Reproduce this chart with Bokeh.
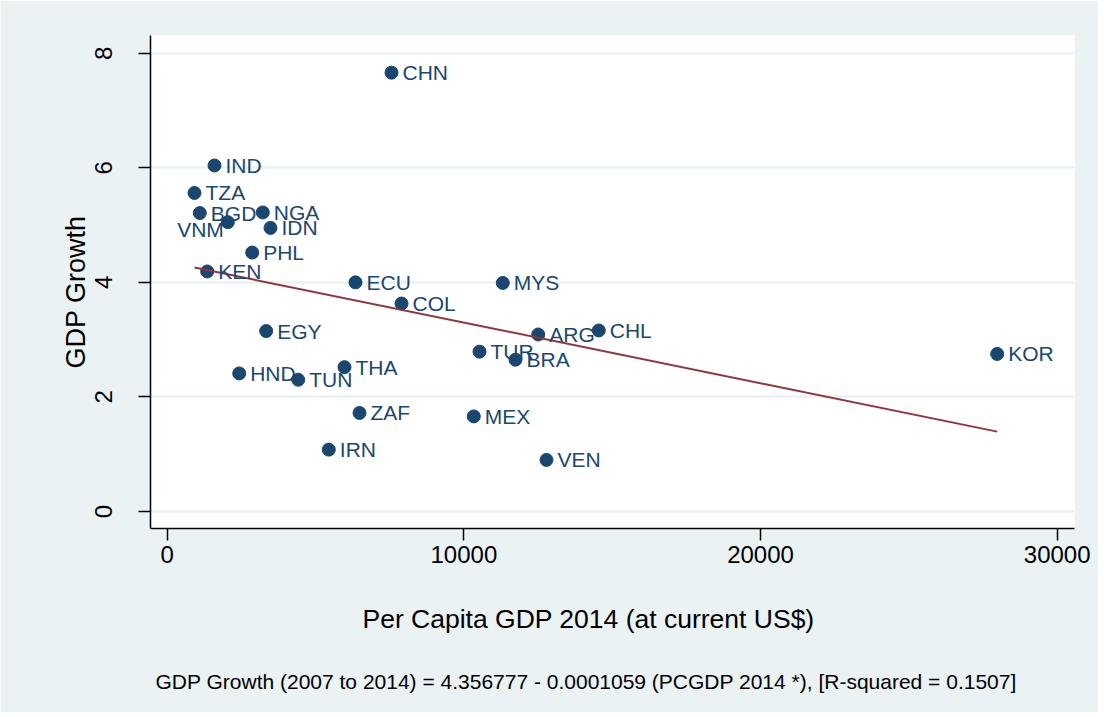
from bokeh.plotting import figure
from bokeh.models import ColumnDataSource, Range1d, FixedTicker, Title, LabelSet
from bokeh.embed import file_html
from bokeh.resources import INLINE
from bokeh.core.properties import value

countries = ["CHN", "IND", "TZA", "BGD", "VNM", "NGA", "IDN", "PHL", "KEN", "ECU",
             "COL", "MYS", "EGY", "ARG", "CHL", "TUR", "BRA", "THA", "HND", "TUN",
             "ZAF", "MEX", "IRN", "VEN", "KOR"]
pcgdp = [7561, 1594, 920, 1099, 2043, 3222, 3482, 2865, 1348, 6347,
         7898, 11312, 3337, 12506, 14548, 10527, 11740, 5976, 2427, 4416,
         6482, 10335, 5447, 12785, 27977]
growth = [7.66, 6.04, 5.56, 5.21, 5.05, 5.22, 4.95, 4.52, 4.19, 4.00,
          3.63, 3.99, 3.15, 3.09, 3.16, 2.79, 2.65, 2.52, 2.41, 2.30,
          1.72, 1.66, 1.08, 0.90, 2.75]
left_labelled = ["VNM"]
intercept = 4.356777
slope = -0.0001059
x_ticks = [0, 10000, 20000, 30000]
y_ticks = [0, 2, 4, 6, 8]
x_title = "Per Capita GDP 2014 (at current US$)"
y_title = "GDP Growth"
note_text = "GDP Growth (2007 to 2014) = 4.356777 - 0.0001059 (PCGDP 2014 *), [R-squared = 0.1507]"

FONT = "Liberation Sans"
NAVY = "#1a476f"
BG = "#eaf2f3"

p = figure(width=1098, height=712,
           x_range=Range1d(-563, 30583), y_range=Range1d(-0.297, 8.309),
           output_backend="svg", toolbar_location=None,
           min_border_left=150, min_border_right=24,
           min_border_top=35, min_border_bottom=184)
p.border_fill_color = BG
p.background_fill_color = "white"
p.outline_line_color = None

# grid
p.xgrid.grid_line_color = None
p.ygrid.ticker = FixedTicker(ticks=y_ticks)
p.ygrid.grid_line_color = BG
p.ygrid.grid_line_width = 2.5

# axes
p.xaxis.ticker = FixedTicker(ticks=x_ticks)
p.yaxis.ticker = FixedTicker(ticks=y_ticks)
for ax in (p.xaxis[0], p.yaxis[0]):
    ax.axis_line_color = "black"
    ax.axis_line_width = 1.5
    ax.major_tick_line_color = "black"
    ax.major_tick_line_width = 1.5
    ax.major_tick_out = 12
    ax.major_tick_in = 0
    ax.minor_tick_line_color = None
    ax.major_label_text_font = FONT
    ax.major_label_text_font_size = "24px"
    ax.major_label_text_color = "black"

p.yaxis.major_label_orientation = "vertical"
p.yaxis.major_label_standoff = 26
p.xaxis.major_label_standoff = 5

ytitle = Title(text=y_title, align="left", offset=160, text_font=FONT,
               text_font_size="27px", text_font_style="normal",
               text_color="black", standoff=4)
p.add_layout(ytitle, "left")

xtitle = Title(text=x_title, align="left", offset=212, text_font=FONT,
               text_font_size="26.5px", text_font_style="normal",
               text_color="black", standoff=72)
p.add_layout(xtitle, "below")

note = Title(text=note_text, align="left", offset=5, text_font=FONT,
             text_font_size="21px", text_font_style="normal",
             text_color="black", standoff=0, vertical_align="top")
p.add_layout(note, "below")

right_idx = [i for i, c in enumerate(countries) if c not in left_labelled]
left_idx = [i for i, c in enumerate(countries) if c in left_labelled]

src = ColumnDataSource(dict(x=pcgdp, y=growth, name=countries))
p.scatter("x", "y", source=src, size=13, fill_color=NAVY, line_color=NAVY)

src_r = ColumnDataSource(dict(x=[pcgdp[i] for i in right_idx],
                              y=[growth[i] for i in right_idx],
                              name=[countries[i] for i in right_idx]))
src_l = ColumnDataSource(dict(x=[pcgdp[i] for i in left_idx],
                              y=[growth[i] for i in left_idx],
                              name=[countries[i] for i in left_idx]))

labels_r = LabelSet(x="x", y="y", text="name", source=src_r, x_offset=11, y_offset=0,
                    text_baseline="middle", text_align="left",
                    text_font=value(FONT), text_font_size="21px", text_color=NAVY)
labels_l = LabelSet(x="x", y="y", text="name", source=src_l, x_offset=-4, y_offset=-7,
                    text_baseline="middle", text_align="right",
                    text_font=value(FONT), text_font_size="21px", text_color=NAVY)
p.add_layout(labels_r)
p.add_layout(labels_l)

xmin, xmax = min(pcgdp), max(pcgdp)
fit_x = [xmin, xmax]
fit_y = [intercept + slope * xmin, intercept + slope * xmax]
p.line(fit_x, fit_y, line_color="#90353b", line_width=2)

open("out.html", "w").write(file_html(p, INLINE))
